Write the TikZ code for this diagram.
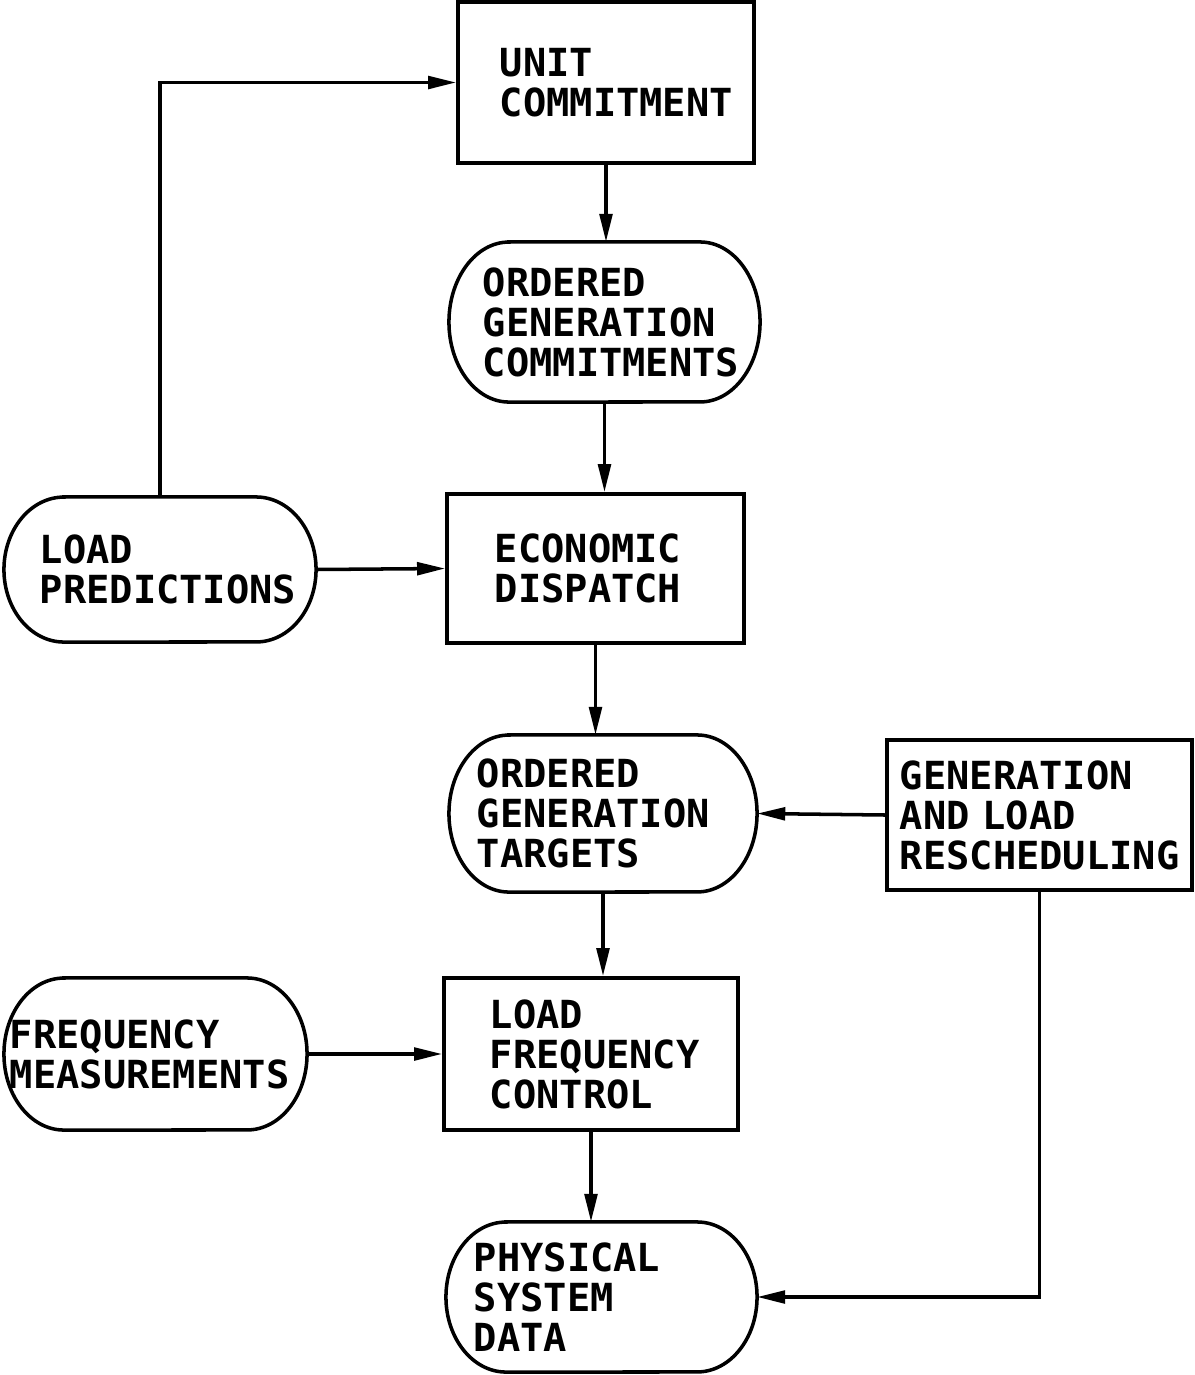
\documentclass[tikz,border=0pt]{standalone}
\usepackage{fontspec}
\setmonofont{DejaVu Sans Mono}
\usetikzlibrary{arrows.meta}
\begin{document}
\begin{tikzpicture}[x=0.01cm,y=-0.01cm,line width=1pt,
  every node/.style={font=\ttfamily\bfseries\fontsize{11}{11.4}\selectfont,align=left,inner sep=0pt},
  proc/.style={draw,rectangle},
  data/.style={rectangle,outer sep=0pt},
  flow/.style={-{Triangle[length=8pt,width=3.6pt]}}]
\useasboundingbox (0,0) rectangle (1195,1375);
\node[proc,minimum width=2.96cm,minimum height=1.61cm,text width=2.12cm] (uc) at (606,82.5) {UNIT\\COMMITMENT};
\node[data,minimum width=3.11cm,minimum height=1.60cm,text width=2.43cm] (ogc) at (604.5,322) {ORDERED\\GENERATION\\COMMITMENTS};
\node[proc,minimum width=2.97cm,minimum height=1.49cm,text width=2.01cm] (ed) at (595.5,568.5) {ECONOMIC\\DISPATCH};
\node[data,minimum width=3.12cm,minimum height=1.45cm,text width=2.40cm] (lp) at (160,569.5) {LOAD\\PREDICTIONS};
\node[data,minimum width=3.08cm,minimum height=1.57cm,text width=2.52cm] (ogt) at (603,813.5) {ORDERED\\GENERATION\\TARGETS};
\node[proc,minimum width=3.05cm,minimum height=1.50cm,text width=2.79cm] (galr) at (1039.5,815) {GENERATION\\AND LOAD\\RESCHEDULING};
\node[proc,minimum width=2.94cm,minimum height=1.52cm,text width=2.02cm] (lfc) at (591,1054) {LOAD\\FREQUENCY\\CONTROL};
\node[data,minimum width=3.03cm,minimum height=1.52cm,text width=2.91cm] (fm) at (155.5,1054) {FREQUENCY\\MEASUREMENTS};
\node[data,minimum width=3.11cm,minimum height=1.50cm,text width=2.55cm] (psd) at (601.5,1297) {PHYSICAL\\SYSTEM\\DATA};
\foreach \n/\h in {ogc/80,lp/72.5,ogt/78.5,fm/76,psd/75}
  \draw ([xshift=0.6cm]\n.north west) -- ([xshift=-0.6cm]\n.north east)
    arc[start angle=-90,end angle=90,x radius=60,y radius=\h]
    -- ([xshift=0.6cm]\n.south west)
    arc[start angle=90,end angle=270,x radius=60,y radius=\h] -- cycle;
\draw[flow] (lp.north) |- (uc.west);
\draw[flow] (uc.south) -- (uc.south |- ogc.north);
\draw[flow] (ogc.south) -- (ogc.south |- ed.north);
\draw[flow] (lp.east) -- (ed.west);
\draw[flow] (ed.south) -- (ed.south |- ogt.north);
\draw[flow] (galr.west) -- (ogt.east);
\draw[flow] (ogt.south) -- (ogt.south |- lfc.north);
\draw[flow] (fm.east) -- (lfc.west);
\draw[flow] (lfc.south) -- (lfc.south |- psd.north);
\draw[flow] (galr.south) |- (psd.east);
\end{tikzpicture}
\end{document}
